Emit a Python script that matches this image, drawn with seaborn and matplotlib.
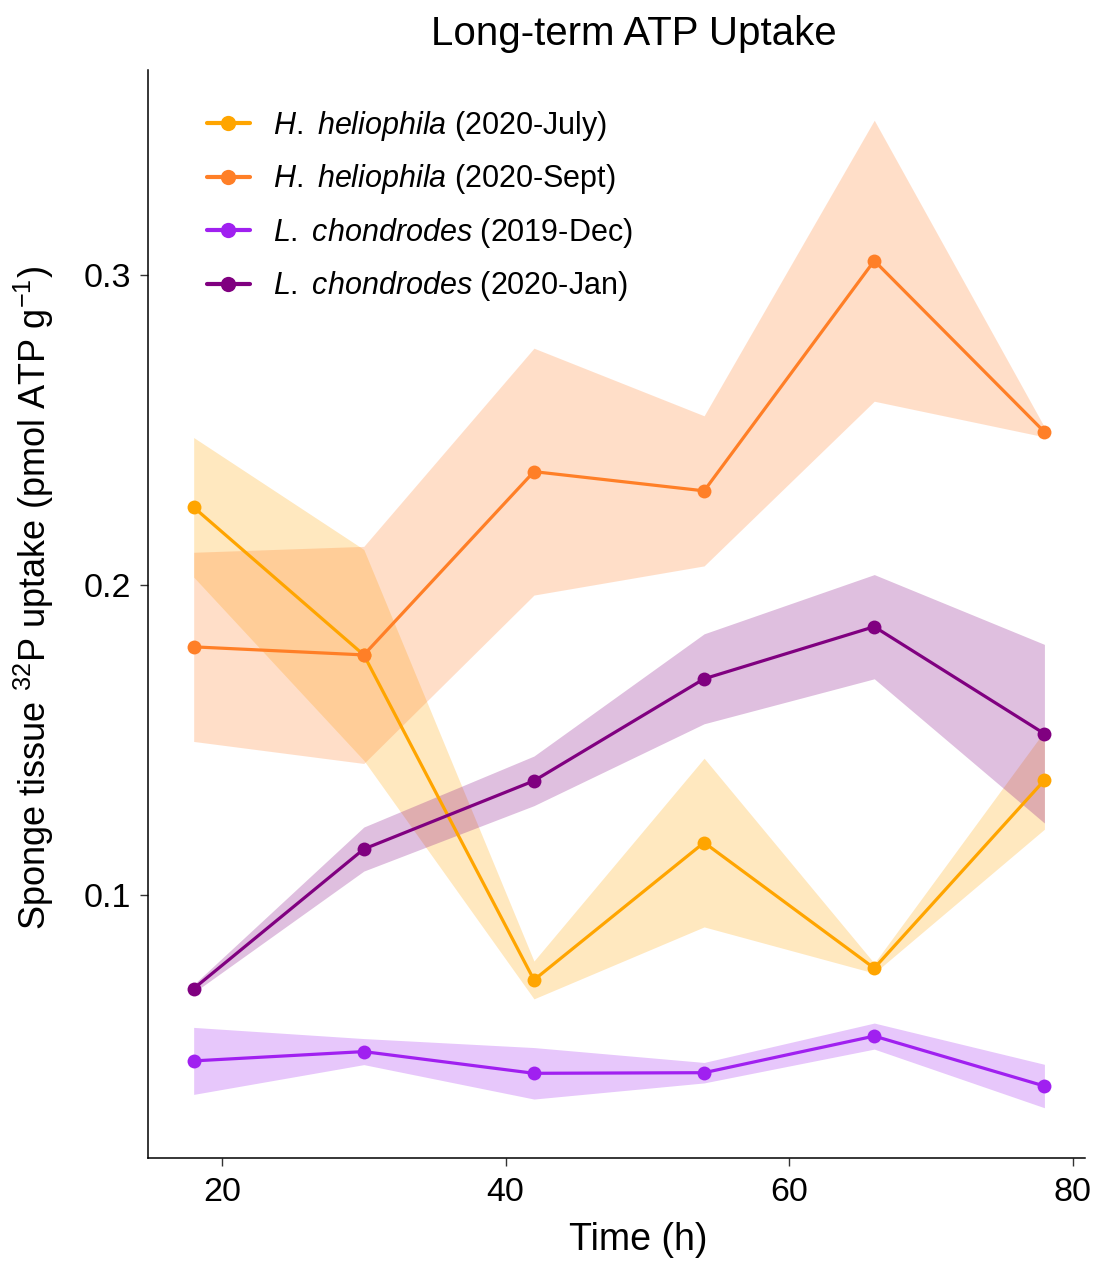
import matplotlib
matplotlib.use("Agg")
import matplotlib.pyplot as plt
import numpy as np
import pandas as pd
import seaborn as sns

# Sampling times (h)
time_h = [18, 30, 42, 54, 66, 78]

# Mean uptake and standard error per group
hh_july_mean = [0.225, 0.1774, 0.0726, 0.1169, 0.0764, 0.137]
hh_july_se = [0.0225, 0.034, 0.0061, 0.0272, 0.0016, 0.0158]

hh_sept_mean = [0.180, 0.1774, 0.2365, 0.2303, 0.3045, 0.2493]
hh_sept_se = [0.0305, 0.035, 0.0398, 0.0242, 0.0453, 0.0016]

lc_dec_mean = [0.0465, 0.0495, 0.0425, 0.0427, 0.0545, 0.0384]
lc_dec_se = [0.0108, 0.0042, 0.0083, 0.0033, 0.0042, 0.007]

lc_jan_mean = [0.0698, 0.1148, 0.1368, 0.1697, 0.1865, 0.152]
lc_jan_se = [0.0013, 0.0071, 0.008, 0.0145, 0.0168, 0.0288]

group_labels = [
    r"$\mathit{H.}$ $\mathit{heliophila}$ (2020-July)",
    r"$\mathit{H.}$ $\mathit{heliophila}$ (2020-Sept)",
    r"$\mathit{L.}$ $\mathit{chondrodes}$ (2019-Dec)",
    r"$\mathit{L.}$ $\mathit{chondrodes}$ (2020-Jan)",
]
group_colors = ["#FFA500", "#FF7F27", "#A020F0", "#800080"]

means = [hh_july_mean, hh_sept_mean, lc_dec_mean, lc_jan_mean]
ses = [hh_july_se, hh_sept_se, lc_dec_se, lc_jan_se]

rows = []
for label, m, s in zip(group_labels, means, ses):
    for t, mv, sv in zip(time_h, m, s):
        rows.append({"Time": t, "Uptake": mv, "SE": sv, "Group": label})
df = pd.DataFrame(rows)

sns.set_theme(style="ticks")
plt.rcParams["font.family"] = ["Liberation Sans", "DejaVu Sans"]
plt.rcParams["mathtext.fontset"] = "custom"
plt.rcParams["mathtext.rm"] = "Liberation Sans"
plt.rcParams["mathtext.it"] = "Liberation Sans:italic"
plt.rcParams["mathtext.bf"] = "Liberation Sans:bold"
plt.rcParams["text.color"] = "black"
plt.rcParams["axes.labelcolor"] = "black"
plt.rcParams["xtick.color"] = "black"
plt.rcParams["ytick.color"] = "black"

fig = plt.figure(figsize=(10.98, 12.61), dpi=100)
ax = fig.add_axes([0.1348, 0.0817, 0.8532, 0.8628])

# Standard-error ribbons
for label, color in zip(group_labels, group_colors):
    sub = df[df["Group"] == label]
    ax.fill_between(sub["Time"], sub["Uptake"] - sub["SE"], sub["Uptake"] + sub["SE"],
                    color=color, alpha=0.25, linewidth=0, zorder=1)

sns.lineplot(data=df, x="Time", y="Uptake", hue="Group", hue_order=group_labels,
             palette=group_colors, marker="o", markersize=10, markeredgewidth=0,
             linewidth=2.3, errorbar=None, ax=ax, zorder=3)

ax.set_xlim(14.78, 80.85)
ax.set_ylim(0.0152, 0.366)
ax.set_xticks([20, 40, 60, 80])
ax.set_yticks([0.1, 0.2, 0.3])
ax.tick_params(axis="both", labelsize=24.5, length=6, width=1, color="#333333")
ax.tick_params(axis="x", pad=8)
ax.tick_params(axis="y", pad=6)
for side in ["top", "right"]:
    ax.spines[side].set_visible(False)
for side in ["left", "bottom"]:
    ax.spines[side].set_linewidth(1.1)
    ax.spines[side].set_color("black")

ax.set_xlabel("Time (h)", fontsize=27)
ax.xaxis.set_label_coords(0.523, -0.0588)
ax.set_ylabel(r"Sponge tissue $^{32}$P uptake (pmol ATP g$^{-1}$)", fontsize=26)
ax.yaxis.set_label_coords(-0.0982, 0.5147)
ax.set_title("Long-term ATP Uptake", fontsize=29, pad=18, x=0.519)

leg = ax.legend(loc="upper left", bbox_to_anchor=(0.05, 0.9757), frameon=False,
                fontsize=22, handlelength=1.4, handletextpad=0.76, labelspacing=0.64,
                borderaxespad=0)
for h in leg.legend_handles:
    h.set_linewidth(3)
    h.set_markersize(11)

fig.savefig("out.png", dpi=100)
